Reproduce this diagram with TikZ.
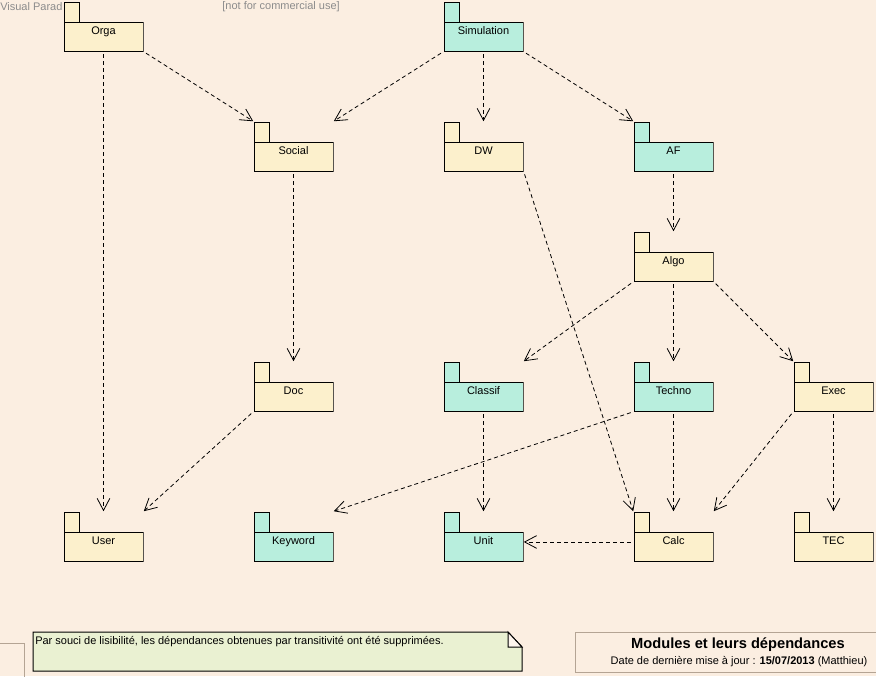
\documentclass[tikz,border=0pt]{standalone}
\usepackage{fontspec}
\setmainfont{Liberation Sans}
\usepackage{tikz}
\usetikzlibrary{arrows.meta}
\definecolor{backbeige}{HTML}{FBEEE1}
\definecolor{pkgyellow}{HTML}{FCF0CC}
\definecolor{pkgteal}{HTML}{B8EEDD}
\definecolor{notegreen}{HTML}{EAF1D2}
\definecolor{framegray}{HTML}{B4A494}
\definecolor{markgray}{HTML}{8C8C8C}

\begin{document}
\begin{tikzpicture}[x=0.75pt, y=-0.75pt,
  small/.style={font=\fontsize{8.25}{10}\selectfont},
  pkg/.style={small, minimum width=60pt, minimum height=37.5pt, inner sep=0pt,
    text height=13.8pt, text depth=2pt,
    path picture={
      \draw[line width=0.75pt, fill=#1] ([shift={(0.375pt,-0.375pt)}]path picture bounding box.north west) rectangle ++(11.25pt,-15pt);
      \draw[line width=0.75pt, fill=#1] ([shift={(0.375pt,-15.375pt)}]path picture bounding box.north west) rectangle ([shift={(-0.375pt,0.375pt)}]path picture bounding box.south east);
    }},
  dep/.style={dash pattern=on 3pt off 2.25pt, line width=0.6pt, shorten <=2pt,
    -{Straight Barb[length=9pt, width=9.5pt]}}]
\useasboundingbox (0,0) rectangle (876,676);
\clip (0,0) rectangle (876,676);
\fill[backbeige] (0,0) rectangle (876,676);

% watermark
\node[small, text=markgray, anchor=west, inner sep=0pt] (vpname) at (0,7) {Visual Parad};
\node[small, text=markgray, anchor=east, inner sep=0pt] (vpuse) at (340,7) {[not for commercial use]};

% modules
\node[pkg=pkgyellow] (orga) at (103.5,26.5) {Orga};
\node[pkg=pkgteal] (simu) at (483.5,26.5) {Simulation};
\node[pkg=pkgyellow] (social) at (293.5,146.5) {Social};
\node[pkg=pkgyellow] (dw) at (483.5,146.5) {DW};
\node[pkg=pkgteal] (af) at (673.5,146.5) {AF};
\node[pkg=pkgyellow] (algo) at (673.5,256.5) {Algo};
\node[pkg=pkgyellow] (doc) at (293.5,386.5) {Doc};
\node[pkg=pkgteal] (classif) at (483.5,386.5) {Classif};
\node[pkg=pkgteal] (techno) at (673.5,386.5) {Techno};
\node[pkg=pkgyellow] (exec) at (833.5,386.5) {Exec};
\node[pkg=pkgyellow] (user) at (103.5,536.5) {User};
\node[pkg=pkgteal] (keyword) at (293.5,536.5) {Keyword};
\node[pkg=pkgteal] (unit) at (483.5,536.5) {Unit};
\node[pkg=pkgyellow] (calc) at (673.5,536.5) {Calc};
\node[pkg=pkgyellow] (tec) at (833.5,536.5) {TEC};

% dependencies
\draw[dep] (orga) -- (user);
\draw[dep] (orga.south east) -- (social.north west);
\draw[dep] (simu.south west) -- (social.north east);
\draw[dep] (simu) -- (dw);
\draw[dep] (simu.south east) -- (af.north west);
\draw[dep] (social) -- (doc);
\draw[dep] (dw.south east) -- (calc.north west);
\draw[dep] (af) -- (algo);
\draw[dep] (algo.south west) -- (classif.north east);
\draw[dep] (algo) -- (techno);
\draw[dep] (algo.south east) -- (exec.north west);
\draw[dep] (doc.south west) -- (user.north east);
\draw[dep] (classif) -- (unit);
\draw[dep] (techno.south west) -- (keyword.north east);
\draw[dep] (techno) -- (calc);
\draw[dep] (exec.south west) -- (calc.north east);
\draw[dep] (exec) -- (tec);
\draw[dep] ([yshift=-4.1pt]calc.west) -- ([yshift=-4.1pt]unit.east);

% note
\filldraw[line width=0.75pt, fill=notegreen] (33,632) -- (508,632) -- (522,647) -- (522,671) -- (33,671) -- cycle;
\filldraw[line width=0.75pt, fill=backbeige!60!white] (508,632) -- (508,647) -- (522,647) -- cycle;
\node[small, anchor=west, inner sep=0pt] (notetext) at (35,642) {Par souci de lisibilité, les dépendances obtenues par transitivité ont été supprimées.};

% title frame
\draw[framegray, line width=0.75pt] (575,632) rectangle (890,672);
\node[font=\fontsize{11}{13}\selectfont\bfseries, inner sep=0pt] (title) at (738,645) {Modules et leurs dépendances};
\node[small, inner sep=0pt] (date) at (739,662) {Date de dernière mise à jour : \textbf{15/07/2013} (Matthieu)};
\draw[framegray, line width=0.75pt] (-10,643) rectangle (24,690);
\end{tikzpicture}
\end{document}
